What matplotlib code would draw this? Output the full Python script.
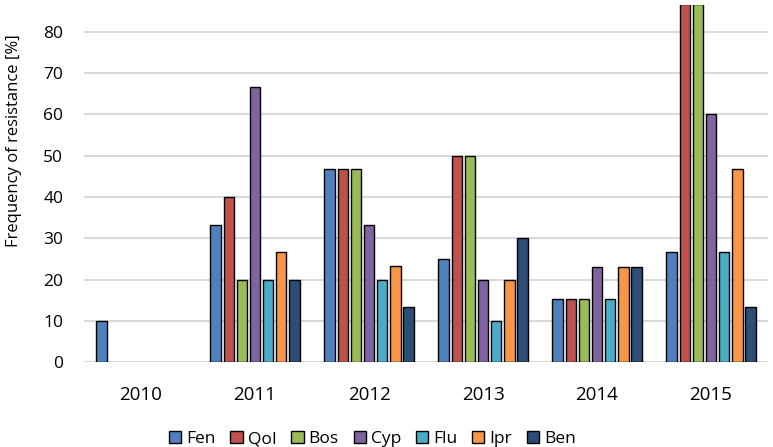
import numpy as np
import matplotlib
matplotlib.use('Agg')
import matplotlib.pyplot as plt

plt.rcParams['font.family'] = ['Open Sans', 'DejaVu Sans']

years = ['2010', '2011', '2012', '2013', '2014', '2015']
series = ['Fen', 'QoI', 'Bos', 'Cyp', 'Flu', 'Ipr', 'Ben']

fen = [10, 33.3, 46.7, 25, 15.4, 26.7]
qoi = [0, 40, 46.7, 50, 15.4, 86.7]
bos = [0, 20, 46.7, 50, 15.4, 86.7]
cyp = [0, 66.7, 33.3, 20, 23.1, 60]
flu = [0, 20, 20, 10, 15.4, 26.7]
ipr = [0, 26.7, 23.3, 20, 23.1, 46.7]
ben = [0, 20, 13.3, 30, 23.1, 13.3]

colors = ['#4F81BD', '#C0504D', '#9BBB59', '#8064A2', '#4BACC6', '#F79646', '#2C4D75']

fig = plt.figure(figsize=(7.73, 4.47), dpi=100)
ax = fig.add_axes([0.1087, 0.190, 0.8849, 0.7987])

x = np.arange(len(years))
slot = 0.115
width = 0.092
values = [fen, qoi, bos, cyp, flu, ipr, ben]
for i, (name, vals, col) in enumerate(zip(series, values, colors)):
    offs = (i - 3) * slot
    v = np.array(vals, dtype=float)
    # skip zero bars so nothing is drawn
    mask = v > 0
    ax.bar(x[mask] + offs, v[mask], width=width, color=col,
           edgecolor='black', linewidth=1.0, label=name, zorder=3)

ax.set_xlim(-0.5, len(years) - 0.5)
ax.set_ylim(0, 86.5)
ax.set_yticks(np.arange(0, 81, 10))
ax.set_xticks(x)
ax.set_xticklabels(years)

ax.grid(axis='y', color='#D9D9D9', linewidth=1.5, zorder=0)
for s in ax.spines.values():
    s.set_visible(False)
ax.tick_params(axis='both', length=0, colors='black')
ax.tick_params(axis='x', pad=17, labelsize=13.5)
ax.tick_params(axis='y', pad=15, labelsize=12.5)

ax.set_ylabel('Frequency of resistance [%]', fontsize=12)
ax.yaxis.set_label_coords(-0.09, 0.62)

fig.legend(loc='lower center', bbox_to_anchor=(0.482, -0.035), ncol=7,
           frameon=False, fontsize=12.5, handlelength=0.7, handleheight=0.7,
           handletextpad=0.3, columnspacing=0.85)

fig.savefig('out.png', dpi=100)
